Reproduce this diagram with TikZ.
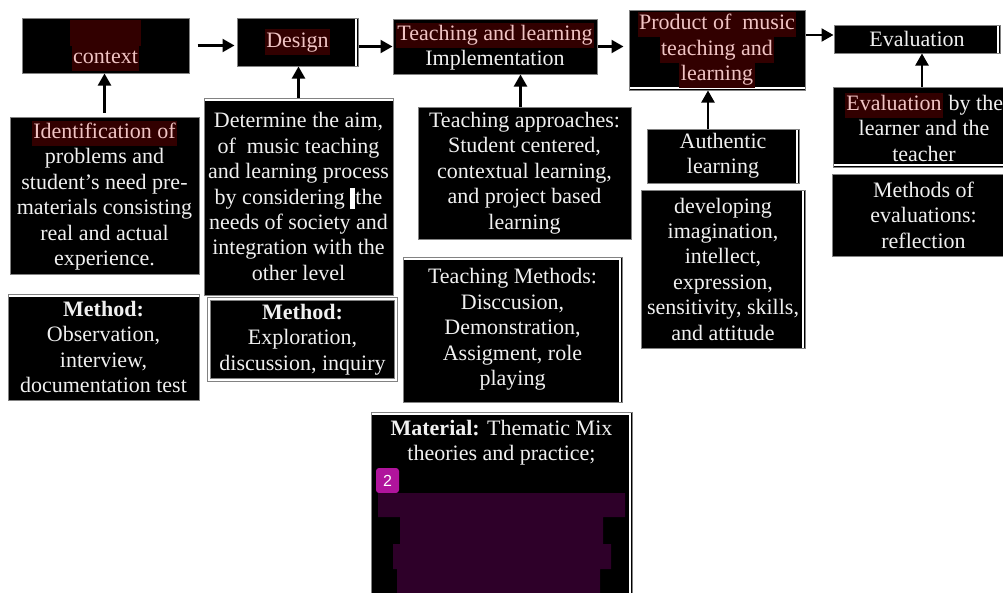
\documentclass[tikz,border=0pt]{standalone}
\usepackage{fontspec}
\setmainfont{Liberation Serif}
\setsansfont{Liberation Sans}
\usepackage{tikz}
\usetikzlibrary{arrows.meta}
\definecolor{boxgray}{RGB}{130,130,130}
\definecolor{hlred}{RGB}{50,0,0}
\definecolor{hlpink}{RGB}{240,196,196}
\definecolor{txtwhite}{RGB}{240,240,240}
\definecolor{badgemag}{RGB}{176,20,156}
\definecolor{barpurple}{RGB}{46,0,41}
\newcommand\boxfont{\fontsize{22}{25.4}\selectfont}
\newcommand\hlt[1]{{\setlength\fboxsep{0pt}\colorbox{hlred}{\strut\kern1.5pt\textcolor{hlpink}{#1}\kern1.5pt}}}

\begin{document}
\begin{tikzpicture}[x=1pt,y=-1pt,
    black box/.style={draw=boxgray,line width=1pt,fill=black,text=txtwhite,
      align=center,inner sep=0pt,font=\boxfont},
    white top/.style={path picture={\draw[white,line width=2.5pt]
      ([yshift=-2pt]path picture bounding box.north west) -- ([yshift=-2pt]path picture bounding box.north east);}},
    white right/.style={path picture={\draw[white,line width=2.5pt]
      ([xshift=-2pt]path picture bounding box.north east) -- ([xshift=-2pt]path picture bounding box.south east);}},
    white bottom/.style={path picture={\draw[white,line width=2.5pt]
      ([yshift=2pt]path picture bounding box.south west) -- ([yshift=2pt]path picture bounding box.south east);}},
    white top right/.style={path picture={\draw[white,line width=2.5pt]
      ([yshift=-2pt]path picture bounding box.north west) -- ([shift={(-2pt,-2pt)}]path picture bounding box.north east)
      -- ([xshift=-2pt]path picture bounding box.south east);}},
    arrow line/.style={-{Triangle[length=12pt,width=13pt]},line width=2.2pt,black}]

  \useasboundingbox (0,0) rectangle (1003,592);
  \clip (0,0) rectangle (1003,592);
  \fill[white] (0,0) rectangle (1003,592);

  \node[black box,minimum width=167,minimum height=55] (1) at (105.5,45.5) {\hlt{\hspace*{68pt}}\\\hlt{context}};
  \node[black box,white right,minimum width=121,minimum height=48] (2) at (297.5,42) {\hlt{Design}};
  \node[black box,minimum width=204,minimum height=55] (3) at (495,46.5) {\hlt{Teaching and learning}\\Implementation};
  \node[black box,white bottom,minimum width=176,minimum height=80] (4) at (717,50) {\hlt{Product of~ music}\\\hlt{teaching and}\\\hlt{learning}};
  \node[black box,white right,minimum width=166,minimum height=28] (5) at (917,39) {Evaluation};

  \node[black box,minimum width=189,minimum height=157] (6) at (104.5,195.5) {\hlt{Identification of}\\problems and\\student's need pre-\\materials consisting\\real and actual\\experience.};
  \node[black box,white top,minimum width=191,minimum height=106] (7) at (103.5,347) {\textbf{Method:}\\Observation,\\interview,\\documentation test};
  \node[black box,white top,minimum width=189,minimum height=197] (8) at (298.5,196.5) {Determine the aim,\\of~ music teaching\\and learning process\\by considering \textcolor{white}{\rule[-5pt]{5pt}{21pt}}the\\needs of society and\\integration with the\\other level};
  \node[black box,double=white,double distance=1.5pt,minimum width=187,minimum height=81] (9) at (302.5,339.5) {\textbf{Method:}\\Exploration,\\discussion, inquiry};
  \node[black box,minimum width=213,minimum height=132] (10) at (524.5,173) {Teaching approaches:\\Student centered,\\contextual learning,\\and project based\\learning};
  \node[black box,white top right,minimum width=219,minimum height=145] (11) at (512.5,329.5) {Teaching Methods:\\Disccusion,\\Demonstration,\\Assigment, role\\playing};
  \node[black box,white top right,minimum width=261,minimum height=190] (12) at (501.5,507) {};
  \node[black box,draw=none,fill=none] (17) at (501.5,443) {\strut\textbf{Material:} Thematic Mix\\theories and practice;\strut};
  \node[fill=badgemag,rounded corners=3pt,text=white,inner sep=0pt,minimum width=23,minimum height=25,
        font=\sffamily\fontsize{16}{18}\selectfont] (18) at (387.5,480.5) {2};
  \fill[barpurple] (378,493) rectangle (625,517) (400,517) rectangle (603,544)
    (393,544) rectangle (611,569) (397,569) rectangle (600,600);

  \node[black box,white right,minimum width=152,minimum height=54] (13) at (723,156) {Authentic\\learning};
  \node[black box,white right,minimum width=164,minimum height=158] (14) at (723,269) {developing\\imagination,\\intellect,\\expression,\\sensitivity, skills,\\and attitude};
  \node[black box,white bottom,minimum width=182,minimum height=80] (15) at (924,127) {\hlt{Evaluation} by the\\learner and the\\teacher};
  \node[black box,minimum width=183,minimum height=82] (16) at (923.5,215) {Methods of\\evaluations:\\reflection};

  \path[arrow line]
    (1.east) edge[shorten <=8pt,shorten >=2pt] (1.east -| 2.west)
    (2.east |- 3.west) edge (3.west)
    (3.east) edge[shorten >=5pt] (3.east -| 4.west)
    ([yshift=4pt]5.west -| 4.east) edge ([yshift=4pt]5.west)
    (6.north) edge[shorten <=4pt] (6.north |- 1.south)
    (8.north) edge (8.north |- 2.south)
    ([xshift=-4pt]10.north) edge ([xshift=-4pt]10.north |- 3.south)
    ([xshift=-15pt]13.north) edge ([xshift=-15pt]13.north |- 4.south)
    ([xshift=5pt]5.south |- 15.north) edge ([xshift=5pt]5.south);
\end{tikzpicture}
\end{document}
